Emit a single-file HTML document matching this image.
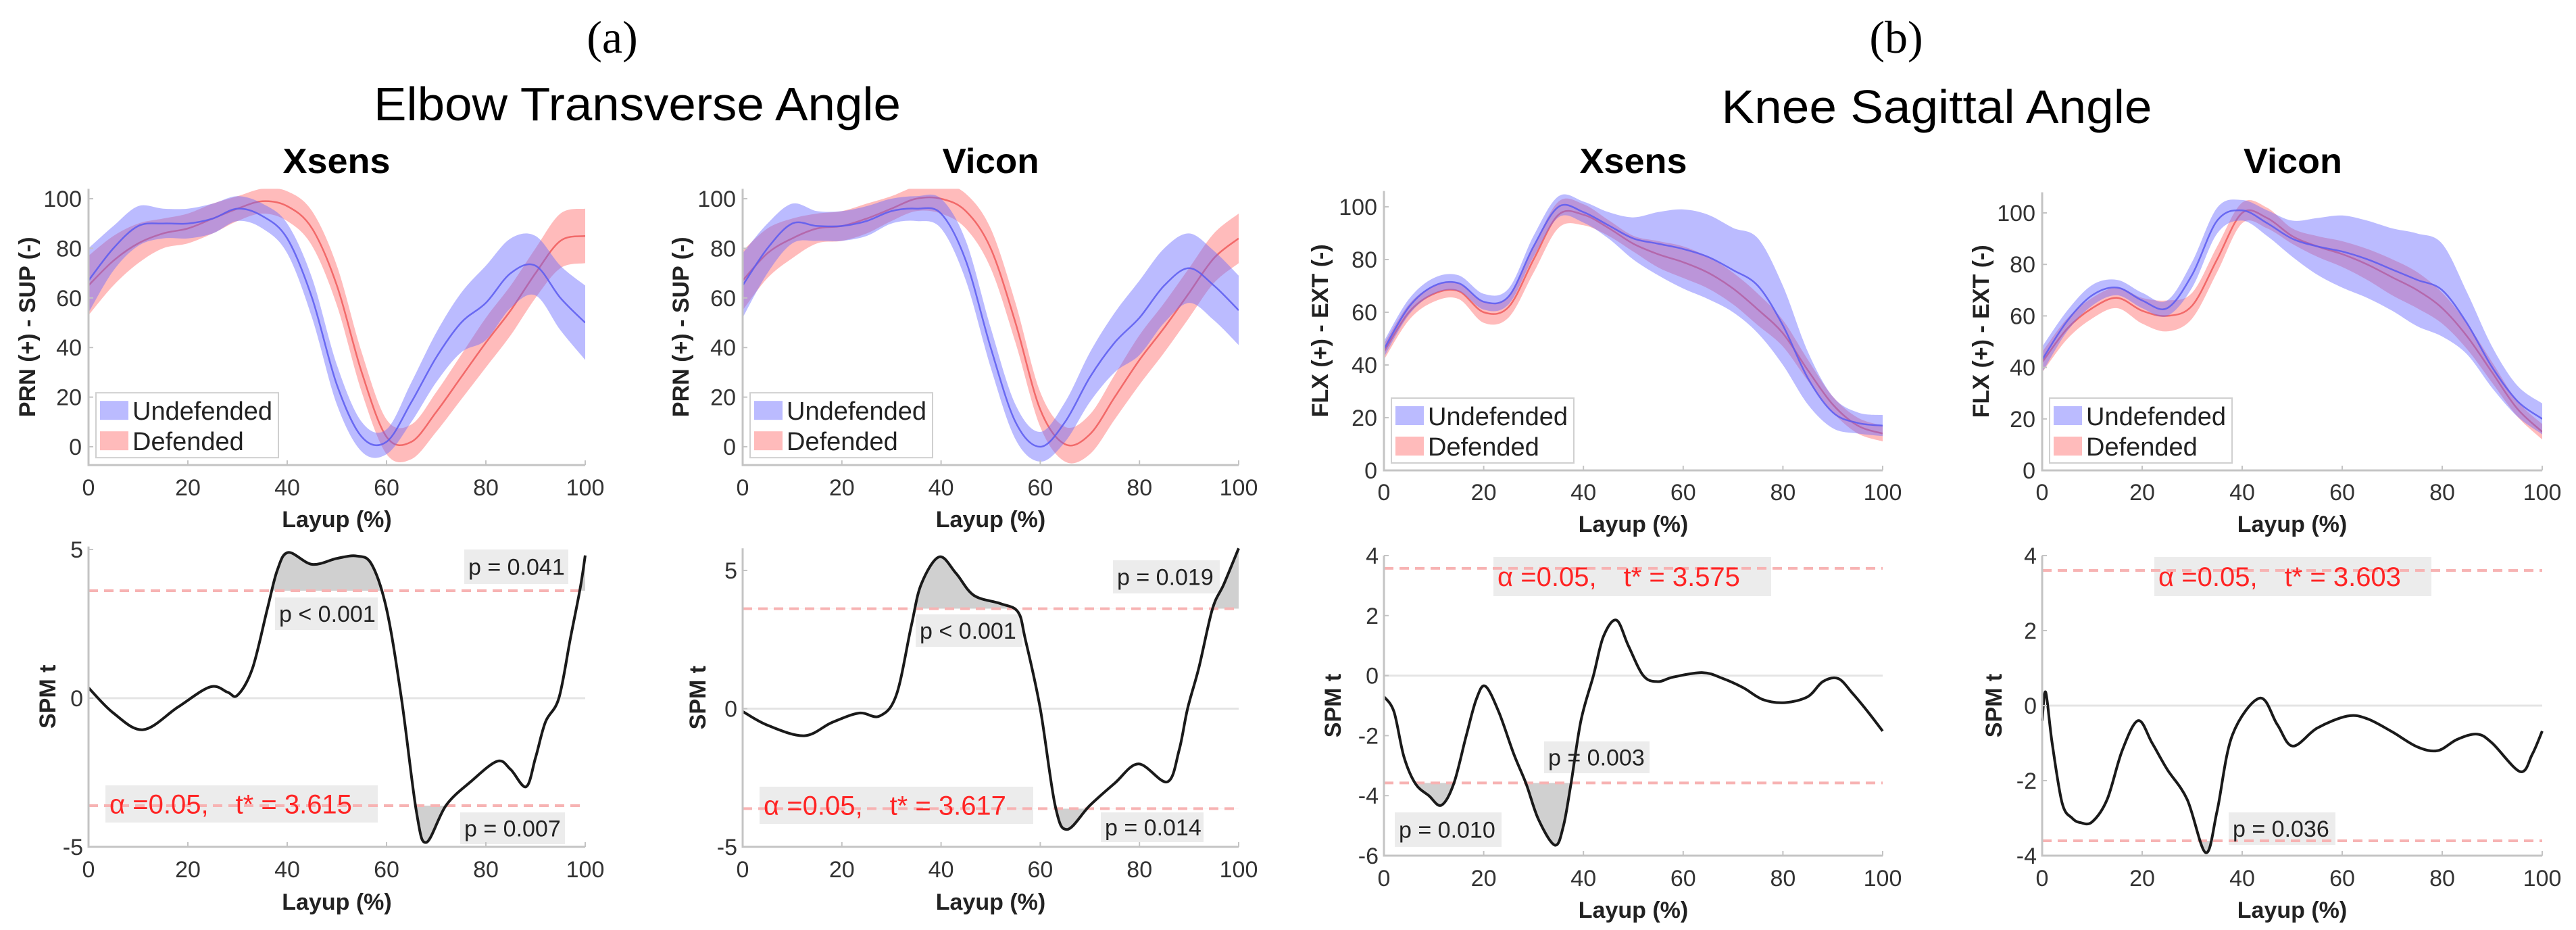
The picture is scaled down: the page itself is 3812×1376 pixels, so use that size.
<!DOCTYPE html>
<html><head><meta charset="utf-8"><title>Elbow and knee joint angles: Xsens vs Vicon</title>
<style>
html,body{margin:0;padding:0;background:#fff;}
svg{display:block;font-family:"Liberation Sans",sans-serif;}
</style></head>
<body>
<svg id="fig" width="3812" height="1376" viewBox="0 0 3812 1376" xmlns="http://www.w3.org/2000/svg">
<text x="906" y="78" font-family="Liberation Serif,serif" font-size="68" text-anchor="middle">(a)</text>
<text x="2806" y="78" font-family="Liberation Serif,serif" font-size="68" text-anchor="middle">(b)</text>
<text x="943" y="178" font-size="70" text-anchor="middle" textLength="780" lengthAdjust="spacingAndGlyphs">Elbow Transverse Angle</text>
<text x="2866" y="182" font-size="70" text-anchor="middle" textLength="637" lengthAdjust="spacingAndGlyphs">Knee Sagittal Angle</text>
<g id="plots"></g>
</svg>
<script>
const NS = 'http://www.w3.org/2000/svg';
// ---------- DATA ----------
const pctX = [0,5,10,15,20,25,30,35,40,45,50,55,60,65,70,75,80,85,90,95,100];
// Elbow Xsens
const elbowXsensUndefMean = [67,80,89,90,90,92,96,93,84,60,25,4,2,18,36,50,58,70,73,60,50];
const elbowXsensUndefSd   = [13,9,8,6,6,6,5,5,6,8,8,6,5,8,10,12,15,14,12,13,15];
const elbowXsensDefMean   = [65,75,82,86,88,92,96,99,97,88,65,30,4,2,14,28,42,55,70,83,85];
const elbowXsensDefSd     = [12,10,8,6,6,6,5,5,6,7,8,8,7,7,8,9,10,10,10,11,11];
// Elbow Vicon
const elbowViconUndefMean = [65,80,90,89,89,91,95,96,94,75,40,10,0,10,28,42,52,65,72,65,55];
const elbowViconUndefSd   = [13,10,8,6,6,6,5,5,6,8,8,7,6,8,10,12,15,15,14,14,14];
const elbowViconDefMean   = [67,78,84,88,89,92,96,100,100,95,80,50,15,1,5,20,35,48,62,76,84];
const elbowViconDefSd     = [12,10,8,6,6,6,5,5,6,7,8,8,7,7,8,9,10,10,10,10,10];
// Knee Xsens
const kneeXsensUndefMean = [46,62,70,71,64,66,85,100,98,93,88,86,84,81,76,70,55,35,22,18,17];
const kneeXsensUndefSd   = [3,3,3,3,3,3,4,4,4,5,8,12,15,16,16,18,15,10,6,4,4];
const kneeXsensDefMean   = [45,60,67,68,60,62,80,97,97,92,86,82,79,75,69,61,52,38,25,17,14];
const kneeXsensDefSd     = [3,3,3,3,4,4,5,5,4,3,3,5,6,6,6,6,5,4,3,3,3];
// Knee Vicon
const kneeViconUndefMean = [43,58,68,71,66,63,76,97,101,96,90,87,85,82,78,74,70,57,40,27,20];
const kneeViconUndefSd   = [5,4,4,3,3,3,5,5,4,5,7,11,14,15,16,18,18,12,8,6,6];
const kneeViconDefMean   = [42,55,63,67,62,60,64,82,100,98,91,87,84,80,75,70,63,52,38,24,15];
const kneeViconDefSd     = [4,4,4,4,5,6,5,5,4,4,3,4,5,6,7,7,6,5,4,3,3];
// SPM t curves
const spmElbowXsensX = [0,5,11,18,24.5,28,30,33,36,38,40.2,45,50,54,57,60,63,66,68,72,77,82.3,85,88.1,90,92,94.7,97,99,100];
const spmElbowXsensT = [0.35,-0.5,-1.06,-0.3,0.38,0.2,0.1,1.0,3.0,4.3,4.9,4.5,4.7,4.78,4.5,3.0,0,-3.8,-4.85,-3.6,-2.8,-2.12,-2.4,-2.98,-2.0,-0.8,0,2.0,3.7,4.8];
const spmElbowViconX = [0,5,12.4,18,23.5,27.6,31,34,36,39.6,43,46.6,52,55.5,57,60,63,65.4,70,75,79.8,85.6,88,89.7,92,94.7,97,100];
const spmElbowViconT = [-0.1,-0.6,-0.98,-0.5,-0.16,-0.27,0.5,3.0,4.5,5.49,4.9,4.1,3.8,3.5,2.5,0,-3.5,-4.37,-3.5,-2.7,-2.0,-2.65,-1.5,0,1.5,3.6,4.5,5.8];
const spmKneeXsensX = [0,2,4,6.3,9,11.5,14,16.5,18.5,20.3,23,26,28.5,31,34.3,36,37.5,39.5,42,44,46.6,49,52,54.9,58,63.9,68,72,76,80.4,85,88,91.1,94,97,100];
const spmKneeXsensT = [-0.7,-1.2,-2.7,-3.6,-4.0,-4.32,-3.6,-2.0,-0.8,-0.35,-1.2,-2.6,-3.6,-4.8,-5.65,-5.0,-3.6,-1.5,0,1.3,1.85,1.0,0,-0.2,-0.05,0.1,-0.1,-0.4,-0.8,-0.9,-0.7,-0.2,-0.1,-0.6,-1.2,-1.85];
const spmKneeViconX = [0,0.7,2,4,6,7.7,10,13,16,19.2,22,25,29,32.7,35,38,43.5,47,50.1,55,61,65,70,75,79.1,83,87,90,95.6,98,100];
const spmKneeViconT = [-0.4,0.36,-1.0,-2.6,-3.0,-3.12,-3.1,-2.5,-1.2,-0.4,-1.0,-1.7,-2.5,-3.92,-2.8,-0.8,0.2,-0.5,-1.08,-0.6,-0.28,-0.35,-0.7,-1.1,-1.2,-0.9,-0.76,-1.0,-1.76,-1.3,-0.68];
const thresholds = [3.615, 3.617, 3.575, 3.603];
const thresholdLabels = ['t* = 3.615','t* = 3.617','t* = 3.575','t* = 3.603'];
const topTicks = [0,20,40,60,80,100];
const xTicks = [0,20,40,60,80,100];
const spmTicksA = [-5,0,5];
const spmTicksKX = [-6,-4,-2,0,2,4];
const spmTicksKV = [-4,-2,0,2,4];

// ---------- LAYOUT ----------
const topPanels = [
 {name:'elbow-xsens', title:'Xsens', tw:159, x0:131, x1:866, ya:661, yb:294, vmin:-7.4, vmax:104, ylab:'PRN (+) - SUP (-)', labx:40, tx:498, um:elbowXsensUndefMean, us:elbowXsensUndefSd, dm:elbowXsensDefMean, ds:elbowXsensDefSd, ticks:topTicks, tickY:733, xlabY:780},
 {name:'elbow-vicon', title:'Vicon', tw:143, x0:1099, x1:1833, ya:661, yb:294, vmin:-7.4, vmax:104, ylab:'PRN (+) - SUP (-)', labx:1007, tx:1466, um:elbowViconUndefMean, us:elbowViconUndefSd, dm:elbowViconDefMean, ds:elbowViconDefSd, ticks:topTicks, tickY:733, xlabY:780},
 {name:'knee-xsens', title:'Xsens', tw:159, x0:2048, x1:2786, ya:696, yb:306, vmin:0, vmax:106, ylab:'FLX (+) - EXT (-)', labx:1953, tx:2417, um:kneeXsensUndefMean, us:kneeXsensUndefSd, dm:kneeXsensDefMean, ds:kneeXsensDefSd, ticks:topTicks, tickY:740, xlabY:787},
 {name:'knee-vicon', title:'Vicon', tw:146, x0:3022, x1:3762, ya:696, yb:315, vmin:0, vmax:108, ylab:'FLX (+) - EXT (-)', labx:2931, tx:3393, um:kneeViconUndefMean, us:kneeViconUndefSd, dm:kneeViconDefMean, ds:kneeViconDefSd, ticks:topTicks, tickY:740, xlabY:787}
];
const botPanels = [
 {name:'elbow-xsens', x0:131, x1:866, va:5, ya:813, vb:-5, yb:1253, vmin:-5, vmax:5.1, xs:spmElbowXsensX, ts:spmElbowXsensT, ticks:spmTicksA, labx:70, tickY:1298, xlabY:1346,
  boxes:[{t:'p < 0.001',x:407,y:884,w:152,h:48},{t:'p = 0.041',x:687,y:813,w:154,h:51},{t:'p = 0.007',x:681,y:1202,w:155,h:47}], alpha:{x:156,y:1162,w:403,h:55}},
 {name:'elbow-vicon', x0:1099, x1:1833, va:5, ya:844, vb:-5, yb:1253, vmin:-5, vmax:5.8, xs:spmElbowViconX, ts:spmElbowViconT, ticks:spmTicksA, labx:1032, tickY:1298, xlabY:1346,
  boxes:[{t:'p < 0.001',x:1355,y:909,w:158,h:48},{t:'p = 0.019',x:1647,y:829,w:158,h:49},{t:'p = 0.014',x:1629,y:1202,w:152,h:44}], alpha:{x:1124,y:1164,w:405,h:55}},
 {name:'knee-xsens', x0:2048, x1:2786, va:4, ya:822, vb:-6, yb:1266, vmin:-6, vmax:4, xs:spmKneeXsensX, ts:spmKneeXsensT, ticks:spmTicksKX, labx:1972, tickY:1311, xlabY:1358,
  boxes:[{t:'p = 0.003',x:2285,y:1097,w:156,h:47},{t:'p = 0.010',x:2064,y:1202,w:158,h:51}], alpha:{x:2210,y:824,w:411,h:58}},
 {name:'knee-vicon', x0:3022, x1:3762, va:4, ya:822, vb:-4, yb:1266, vmin:-4, vmax:4, xs:spmKneeViconX, ts:spmKneeViconT, ticks:spmTicksKV, labx:2950, tickY:1311, xlabY:1358,
  boxes:[{t:'p = 0.036',x:3298,y:1202,w:158,h:48}], alpha:{x:3188,y:824,w:410,h:58}}
];

const root = document.getElementById('plots');
function mk(tag, attrs, parent, text){
  const e = document.createElementNS(NS, tag);
  for (const k in attrs) e.setAttribute(k, attrs[k]);
  if (text !== undefined) e.textContent = text;
  (parent || root).appendChild(e);
  return e;
}
function crPath(pts, start){
  let d = start ? 'M' + pts[0][0].toFixed(1) + ',' + pts[0][1].toFixed(1) : 'L' + pts[0][0].toFixed(1) + ',' + pts[0][1].toFixed(1);
  for (let i = 0; i < pts.length - 1; i++){
    const p0 = pts[Math.max(0,i-1)], p1 = pts[i], p2 = pts[i+1], p3 = pts[Math.min(pts.length-1,i+2)];
    const c1x = p1[0] + (p2[0]-p0[0])/6, c1y = p1[1] + (p2[1]-p0[1])/6;
    const c2x = p2[0] - (p3[0]-p1[0])/6, c2y = p2[1] - (p3[1]-p1[1])/6;
    d += 'C' + c1x.toFixed(1)+','+c1y.toFixed(1)+' '+c2x.toFixed(1)+','+c2y.toFixed(1)+' '+p2[0].toFixed(1)+','+p2[1].toFixed(1);
  }
  return d;
}
let clipId = 0;

topPanels.forEach(p => {
  const g = mk('g', {});
  
  
  const sx = v => p.x0 + (p.x1 - p.x0) * v / 100;
  const sy = v => p.ya + (p.yb - p.ya) * v / 100;
  const yTop = sy(p.vmax), yBot = sy(p.vmin);
  const cid = 'clipT' + (clipId++);
  const cp = mk('clipPath', {id: cid}, g);
  mk('rect', {x:p.x0, y:yTop, width:p.x1-p.x0, height:yBot-yTop}, cp);
  const t = mk('text', {x:p.tx, y:256, 'font-size':52, 'font-weight':'bold', 'text-anchor':'middle', textLength:p.tw, lengthAdjust:'spacingAndGlyphs'}, g, p.title);
  
  
  const series = [
    {m:p.dm, s:p.ds, fill:'rgba(255,105,105,0.45)', line:'rgba(240,90,90,0.85)', n:'defended'},
    {m:p.um, s:p.us, fill:'rgba(105,105,255,0.45)', line:'rgba(90,90,240,0.85)', n:'undefended'}
  ];
  series.forEach(se => {
    const up = pctX.map((x,i) => [sx(x), sy(se.m[i] + se.s[i])]);
    const lo = pctX.map((x,i) => [sx(x), sy(se.m[i] - se.s[i])]).reverse();
    const band = mk('path', {d: crPath(up, true) + crPath(lo, false) + 'Z', fill: se.fill, 'clip-path':'url(#'+cid+')'}, g);
    
    
    const mid = pctX.map((x,i) => [sx(x), sy(se.m[i])]);
    const ml = mk('path', {d: crPath(mid, true), fill:'none', stroke: se.line, 'stroke-width':2.5, 'clip-path':'url(#'+cid+')'}, g);
    
    
  });
  const ax = mk('path', {d:'M'+p.x0+','+yTop+'V'+yBot+'H'+p.x1, fill:'none', stroke:'#c4c4c4', 'stroke-width':3}, g);
  
  
  p.ticks.forEach(v => {
    if (v > p.vmax) return;
    mk('line', {x1:p.x0, x2:p.x0+7, y1:sy(v), y2:sy(v), stroke:'#c4c4c4', 'stroke-width':2}, g);
    const tl = mk('text', {x:p.x0-10, y:sy(v)+12, 'font-size':34, 'text-anchor':'end', fill:'#333'}, g, String(v));
    
    
  });
  xTicks.forEach(v => {
    mk('line', {x1:sx(v), x2:sx(v), y1:yBot, y2:yBot-7, stroke:'#c4c4c4', 'stroke-width':2}, g);
    const tl = mk('text', {x:sx(v), y:p.tickY, 'font-size':34, 'text-anchor':'middle', fill:'#333'}, g, String(v));
    
    
  });
  const xl = mk('text', {x:(p.x0+p.x1)/2, y:p.xlabY, 'font-size':34, 'font-weight':'bold', 'text-anchor':'middle', fill:'#222'}, g, 'Layup (%)');
  
  
  const yl = mk('text', {x:0, y:0, 'font-size':34, 'font-weight':'bold', 'text-anchor':'middle', fill:'#222', transform:'translate('+(p.labx+12)+','+((yTop+yBot)/2)+') rotate(-90)'}, g, p.ylab);
  
  
  const lx = p.x0 + 11, ly = yBot - 107;
  const lg = mk('g', {}, g);
  
  
  mk('rect', {x:lx, y:ly, width:270, height:96, fill:'#fff', stroke:'#d0d0d0', 'stroke-width':2}, lg);
  mk('rect', {x:lx+6, y:ly+12, width:42, height:28, fill:'rgba(105,105,255,0.45)'}, lg);
  mk('rect', {x:lx+6, y:ly+57, width:42, height:28, fill:'rgba(255,105,105,0.45)'}, lg);
  const l1 = mk('text', {x:lx+54, y:ly+40, 'font-size':38, fill:'#222'}, lg, 'Undefended');
  
  
  const l2 = mk('text', {x:lx+54, y:ly+85, 'font-size':38, fill:'#222'}, lg, 'Defended');
  
  
});

botPanels.forEach((p, k) => {
  const g = mk('g', {});
  
  
  const sx = v => p.x0 + (p.x1 - p.x0) * v / 100;
  const sy = v => p.ya + (p.yb - p.ya) * (v - p.va) / (p.vb - p.va);
  const yTop = sy(p.vmax), yBot = sy(p.vmin);
  const th = thresholds[k];
  p.boxes.forEach(b => {
    const r = mk('rect', {x:b.x, y:b.y, width:b.w, height:b.h, fill:'#ececec'}, g);
    
    
  });
  mk('rect', {x:p.alpha.x, y:p.alpha.y, width:p.alpha.w, height:p.alpha.h, fill:'#ececec'}, g);
  const zl = mk('line', {x1:p.x0, x2:p.x1, y1:sy(0), y2:sy(0), stroke:'#e4e4e4', 'stroke-width':3}, g);
  
  
  const pts = p.xs.map((x,i) => [sx(x), sy(p.ts[i])]);
  const curveD = crPath(pts, true);
  [1,-1].forEach(sgn => {
    const ty = sy(sgn * th);
    const cid = 'clipS' + (clipId++);
    const cp = mk('clipPath', {id: cid}, g);
    if (sgn > 0) mk('rect', {x:p.x0, y:yTop-50, width:p.x1-p.x0, height:ty-yTop+50}, cp);
    else mk('rect', {x:p.x0, y:ty, width:p.x1-p.x0, height:yBot-ty+50}, cp);
    const sh = mk('path', {d: curveD + 'L'+sx(100)+','+ty+'L'+sx(0)+','+ty+'Z', fill:'#d0d0d0', 'clip-path':'url(#'+cid+')'}, g);
    
    
    const tl = mk('line', {x1:p.x0, x2:p.x1, y1:ty, y2:ty, stroke:'#f7b3b3', 'stroke-width':4, 'stroke-dasharray':'14 9'}, g);
    
    
  });
  const cl = mk('path', {d: curveD, fill:'none', stroke:'#1a1a1a', 'stroke-width':4}, g);
  
  
  p.boxes.forEach(b => {
    const t = mk('text', {x:b.x+6, y:b.y+b.h/2+12, 'font-size':34, fill:'#222'}, g, b.t);
    
    
  });
  const at = mk('text', {x:p.alpha.x+6, y:p.alpha.y+p.alpha.h/2+14, 'font-size':40, fill:'#ff2424'}, g);
  
  
  mk('tspan', {}, at, 'α  =0.05,');
  mk('tspan', {dx:40}, at, thresholdLabels[k]);
  const ax = mk('path', {d:'M'+p.x0+','+yTop+'V'+yBot+'H'+p.x1, fill:'none', stroke:'#c4c4c4', 'stroke-width':3}, g);
  
  
  p.ticks.forEach(v => {
    mk('line', {x1:p.x0, x2:p.x0+7, y1:sy(v), y2:sy(v), stroke:'#c4c4c4', 'stroke-width':2}, g);
    const tl = mk('text', {x:p.x0-8, y:sy(v)+12, 'font-size':34, 'text-anchor':'end', fill:'#333'}, g, String(v));
    
    
  });
  xTicks.forEach(v => {
    mk('line', {x1:sx(v), x2:sx(v), y1:yBot, y2:yBot-7, stroke:'#c4c4c4', 'stroke-width':2}, g);
    const tl = mk('text', {x:sx(v), y:p.tickY, 'font-size':34, 'text-anchor':'middle', fill:'#333'}, g, String(v));
    
    
  });
  const xl = mk('text', {x:(p.x0+p.x1)/2, y:p.xlabY, 'font-size':34, 'font-weight':'bold', 'text-anchor':'middle', fill:'#222'}, g, 'Layup (%)');
  
  
  const yl = mk('text', {x:0, y:0, 'font-size':34, 'font-weight':'bold', 'text-anchor':'middle', fill:'#222', transform:'translate('+(p.labx+12)+','+((yTop+yBot)/2)+') rotate(-90)'}, g, 'SPM t');
  
  
});
</script>
</body></html>
